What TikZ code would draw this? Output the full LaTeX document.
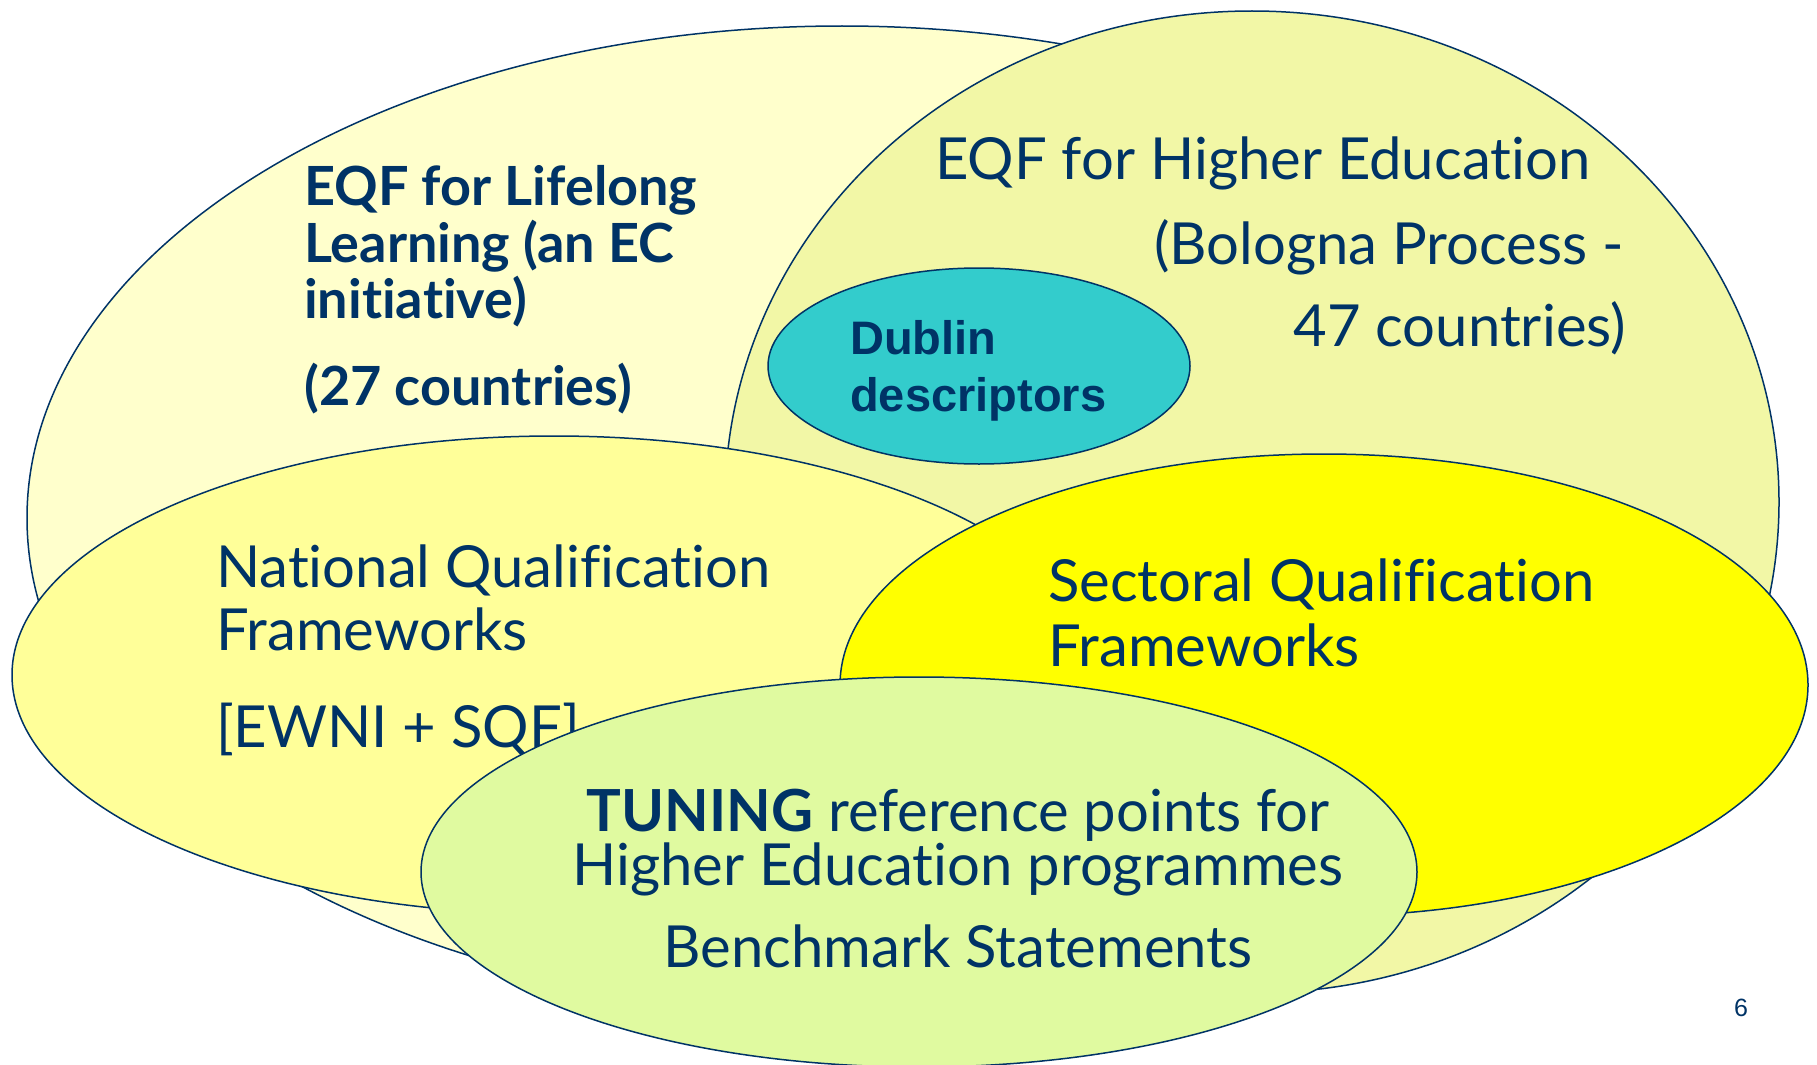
\documentclass[tikz,border=0pt]{standalone}
\usepackage{fontspec}
\setmainfont[Ligatures=NoCommon]{Lato}
\newfontfamily\arialfont{Liberation Sans}
\definecolor{navy}{HTML}{003366}
\definecolor{lllfill}{HTML}{FFFFCC}
\definecolor{hefill}{HTML}{F2F7A6}
\definecolor{dubfill}{HTML}{33CCCC}
\definecolor{nqffill}{HTML}{FFFF99}
\definecolor{sqffill}{HTML}{FFFF00}
\definecolor{tunfill}{HTML}{E0FAA0}
\begin{document}
\begin{tikzpicture}[x=1pt,y=-1pt,
  venn/.style={draw=navy,line width=1.5pt},
  txt/.style={inner sep=0pt,text=navy,font=\fontsize{58}{62}\selectfont},
  txtb/.style={inner sep=0pt,text=navy,font=\fontsize{54}{58}\selectfont\bfseries},
  dub/.style={inner sep=0pt,text=navy,font=\arialfont\fontsize{47}{50}\selectfont\bfseries}]
\useasboundingbox (0,0) rectangle (1817,1065);
% sets
\draw[venn,fill=lllfill] (842,518) ellipse [x radius=815pt,y radius=492pt];
\draw[venn,fill=hefill] (1252,502) ellipse [x radius=527pt,y radius=491pt];
\draw[venn,fill=dubfill] (979,366) ellipse [x radius=211pt,y radius=98pt];
\node[txtb,anchor=base west] (lll1) at (304,205) {EQF for Lifelong};
\node[txtb,anchor=base west] (lll2) at (304,262) {Learning (an EC};
\node[txtb,anchor=base west] (lll3) at (304,318) {initiative)};
\node[txtb,anchor=base west] (lll4) at (304,405) {(27 countries)};
\node[txt,anchor=base west] (he1) at (935,179) {EQF for Higher Education};
\node[txt,anchor=base east] (he2) at (1624,264) {(Bologna Process -};
\node[txt,anchor=base east] (he3) at (1626,346) {47 countries)};
\node[dub,anchor=base west] (dub1) at (850,354) {Dublin};
\node[dub,anchor=base west] (dub2) at (850,411) {descriptors};
\draw[venn,fill=nqffill] (554,675) ellipse [x radius=542pt,y radius=239pt];
\node[txt,anchor=base west] (nqf1) at (216,587) {National Qualification};
\node[txt,anchor=base west] (nqf2) at (216,650) {Frameworks};
\node[txt,anchor=base west] (nqf3) at (216,747) {[EWNI + SQF]};
\draw[venn,fill=sqffill] (1324,685) ellipse [x radius=484pt,y radius=231pt];
\node[txt,anchor=base west] (sqf1) at (1048,601) {Sectoral Qualification};
\node[txt,anchor=base west] (sqf2) at (1048,666) {Frameworks};
\draw[venn,fill=tunfill] (919,872) ellipse [x radius=498pt,y radius=195pt];
\node[txt,font=\fontsize{58}{52}\selectfont,align=center,anchor=base] (tun1) at (958,885)
  {{\bfseries TUNING} reference points for\\Higher Education programmes};
\node[txt,anchor=base] (tun2) at (958,967) {Benchmark Statements};
% slide number
\node[inner sep=0pt,text=navy,font=\arialfont\fontsize{25}{28}\selectfont,anchor=base] (page) at (1741,1016) {6};
\end{tikzpicture}
\end{document}
